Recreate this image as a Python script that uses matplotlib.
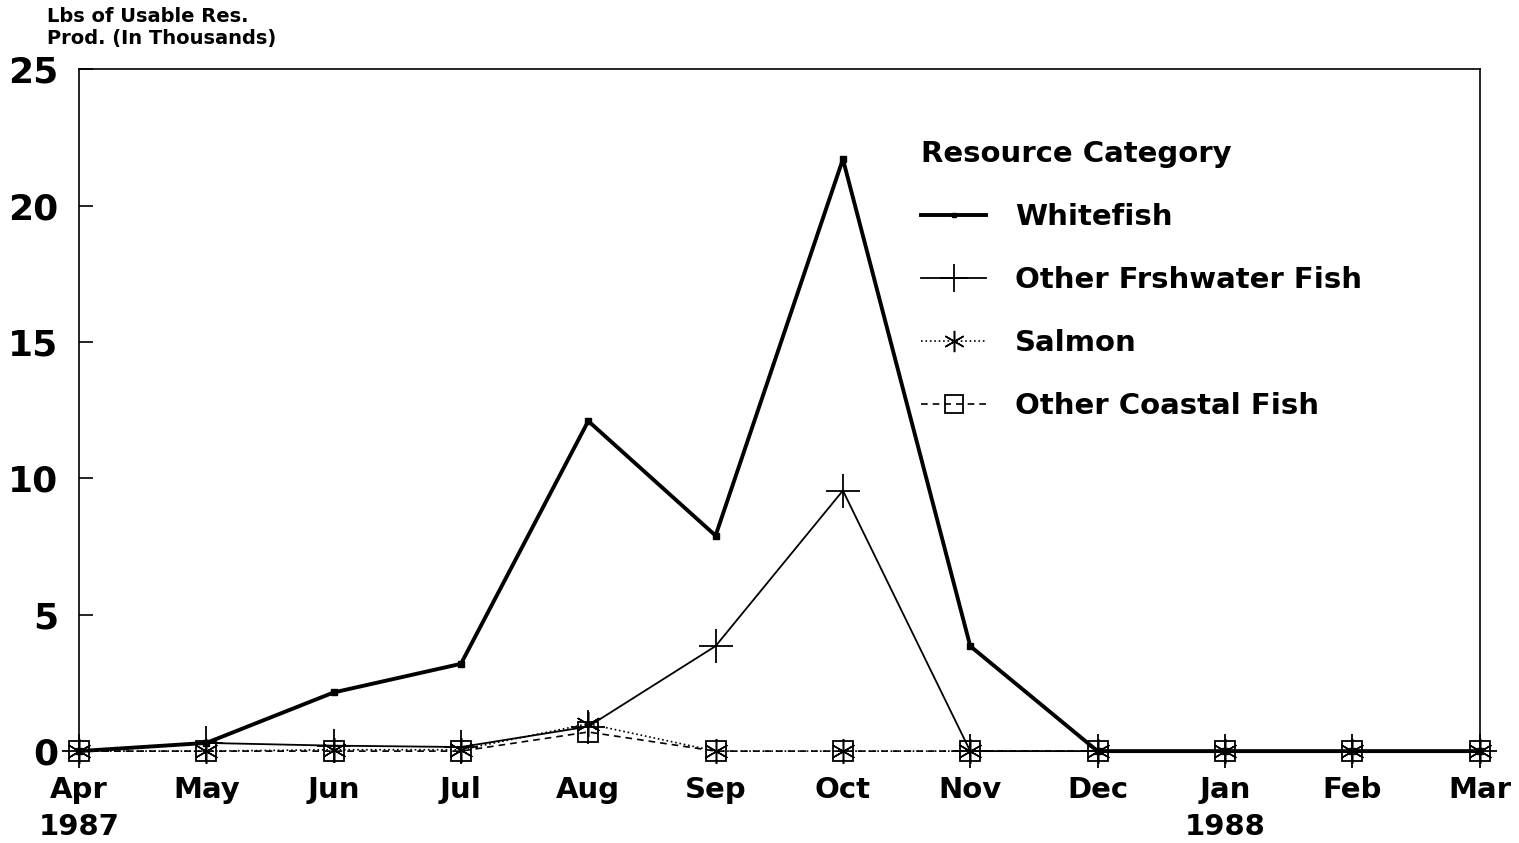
import matplotlib
matplotlib.use("Agg")
from matplotlib import pyplot as plt

months = ["Apr\n1987", "May", "Jun", "Jul", "Aug", "Sep", "Oct", "Nov", "Dec", "Jan\n1988", "Feb", "Mar"]
whitefish = [0.0, 0.3, 2.15, 3.2, 12.1, 7.9, 21.7, 3.85, 0.0, 0.0, 0.0, 0.0]
other_freshwater = [0.0, 0.3, 0.2, 0.15, 0.9, 3.85, 9.55, 0.0, 0.0, 0.0, 0.0, 0.0]
salmon = [0.0, 0.0, 0.05, 0.05, 1.0, 0.0, 0.0, 0.0, 0.0, 0.0, 0.0, 0.0]
other_coastal = [0.0, 0.0, 0.0, 0.0, 0.7, 0.0, 0.0, 0.0, 0.0, 0.0, 0.0, 0.0]
y_ticks = [0, 5, 10, 15, 20, 25]

plt.rcParams['font.family'] = ['DejaVu Sans']
plt.rcParams['font.weight'] = 'bold'

fig = plt.figure(figsize=(15.19, 8.43), dpi=100)
ax = fig.add_axes([0.052, 0.109, 0.922, 0.809])

x = list(range(len(months)))
ax.plot(x, other_coastal, color='black', linestyle=(0, (4, 3)), linewidth=1.2,
        marker='s', markersize=15, markerfacecolor='none', markeredgewidth=1.3,
        label='Other Coastal Fish', clip_on=False, zorder=3)
ax.plot(x, salmon, color='black', linestyle=':', linewidth=1.2,
        marker=(6, 2, 0), markersize=18, markeredgewidth=1.1,
        label='Salmon', clip_on=False, zorder=4)
ax.plot(x, other_freshwater, color='black', linestyle='-', linewidth=1.3,
        marker='+', markersize=24, markeredgewidth=1.3,
        label='Other Frshwater Fish', clip_on=False, zorder=5)
ax.plot(x, whitefish, color='black', linestyle='-', linewidth=2.8,
        marker='s', markersize=4, markerfacecolor='black',
        label='Whitefish', clip_on=False, zorder=6)

ax.set_xlim(0, len(months) - 1)
ax.set_ylim(0, 25)
ax.set_yticks(y_ticks)
ax.set_yticklabels([str(t) for t in y_ticks], fontsize=26)
ax.set_xticks(x)
ax.set_xticklabels(months, fontsize=21, linespacing=1.4)
ax.tick_params(axis='x', length=0, pad=18)
ax.tick_params(axis='y', direction='in', length=10, width=1.2, pad=15)
for spine in ax.spines.values():
    spine.set_linewidth(1.2)
ax.spines['bottom'].set_visible(False)

fig.text(0.031, 0.967, "Lbs of Usable Res.\nProd. (In Thousands)", fontsize=14,
         fontweight='bold', ha='left', va='center', linespacing=1.2)

handles, labels = ax.get_legend_handles_labels()
order = [3, 2, 1, 0]
leg = ax.legend([handles[i] for i in order], [labels[i] for i in order],
                title='Resource Category', loc='upper left',
                bbox_to_anchor=(0.597, 0.851), bbox_transform=fig.transFigure,
                frameon=False, fontsize=21, title_fontsize=21,
                handlelength=2.2, handletextpad=1.0, labelspacing=1.2,
                alignment='left', markerscale=0.85, borderpad=0)
leg.get_title().set_fontweight('bold')

fig.savefig("out.png", dpi=100)
